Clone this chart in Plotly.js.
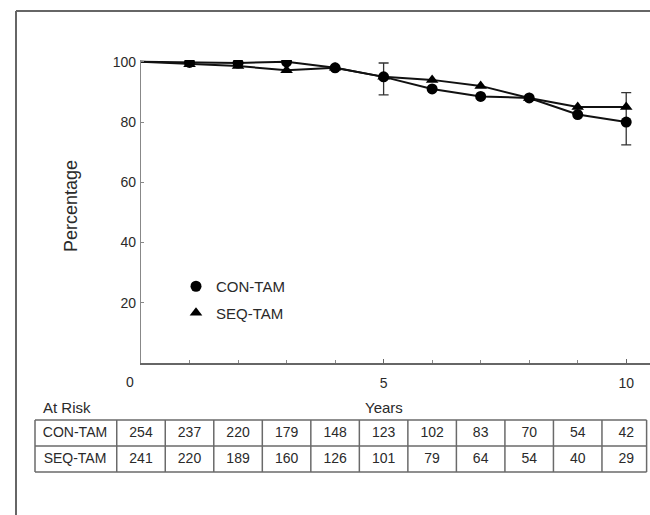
<!DOCTYPE html>
<html><head><meta charset="utf-8">
<script src="https://cdn.plot.ly/plotly-3.0.1.min.js"></script>
<style>html,body{margin:0;padding:0;background:#fff}#chart{width:650px;height:515px}</style>
</head><body><div id="chart"></div>
<script>
// ---- data ----
const years = [0,1,2,3,4,5,6,7,8,9,10];
const conTam = [100, 99.8, 99.6, 100, 98, 95, 91, 88.5, 88, 82.5, 80];
const seqTam = [100, 99.2, 98.6, 97.2, 98, 95, 94, 92, 88, 85, 85];
const conErrPlus  = [null, null, null, null, null, 4.6, null, null, null, null, 9.8];
const conErrMinus = [null, null, null, null, null, 6.0, null, null, null, null, 7.6];
const riskYears = [0,1,2,3,4,5,6,7,8,9,10];
const riskCon = [254, 237, 220, 179, 148, 123, 102, 83, 70, 54, 42];
const riskSeq = [241, 220, 189, 160, 126, 101, 79, 64, 54, 40, 29];
const seriesNames = ['CON-TAM', 'SEQ-TAM'];
const xTickVals = [5, 10];
const yTickVals = [20, 40, 60, 80, 100];

// ---- geometry helpers (pixels -> paper) ----
const W = 650, H = 515;
const px = v => v / W;
const py = v => (H - v) / H;
const plotL = 141, plotR = 650, plotT = 60, plotB = 363;
const xMax = 10.49;
const yearPx = (plotR - plotL) / xMax;
const tableL = 25;
const x2min = -(plotL - tableL) / yearPx;

const ink = '#111';
const txt = '#2a2a2a';
const font = 'Liberation Sans, Arial, sans-serif';

const lineCon = {x: years, y: conTam, mode: 'lines', line: {color: ink, width: 2}, showlegend: false, hoverinfo: 'skip'};
const lineSeq = {x: years, y: seqTam, mode: 'lines', line: {color: ink, width: 2}, showlegend: false, hoverinfo: 'skip'};
const mkCon = {x: years.slice(1), y: conTam.slice(1), mode: 'markers', name: seriesNames[0], legendgroup: 'a',
  marker: {symbol: 'circle', size: 11, color: '#000'},
  error_y: {type: 'data', symmetric: false, array: conErrPlus.slice(1), arrayminus: conErrMinus.slice(1), color: '#333', thickness: 1.3, width: 5}};
const mkSeq = {x: years.slice(1), y: seqTam.slice(1), mode: 'markers', name: seriesNames[1], legendgroup: 'b',
  marker: {symbol: 'triangle-up', size: 11, color: '#000'}};

const labelX = -(plotL - 75) / yearPx;
const tblCon = {x: [labelX].concat(riskYears), y: Array(riskYears.length + 1).fill(1.5),
  text: [seriesNames[0]].concat(riskCon.map(String)), mode: 'text', xaxis: 'x2', yaxis: 'y2',
  textfont: {family: font, size: 14, color: txt}, showlegend: false, hoverinfo: 'skip'};
const tblSeq = {x: [labelX].concat(riskYears), y: Array(riskYears.length + 1).fill(0.5),
  text: [seriesNames[1]].concat(riskSeq.map(String)), mode: 'text', xaxis: 'x2', yaxis: 'y2',
  textfont: {family: font, size: 14, color: txt}, showlegend: false, hoverinfo: 'skip'};

// table grid shapes
const gridCol = '#6a6a6a';
const shapes = [];
const tL = -(plotL - 35) / yearPx, tR = 10.42;
[0, 1, 2].forEach(r => shapes.push({type: 'line', xref: 'x2', yref: 'y2', x0: tL, x1: tR, y0: r, y1: r, line: {color: gridCol, width: 1.5}}));
[tL, -0.5].concat(riskYears.slice(0, -1).map(v => v + 0.5)).concat([tR]).forEach(xv =>
  shapes.push({type: 'line', xref: 'x2', yref: 'y2', x0: xv, x1: xv, y0: 0, y1: 2, line: {color: gridCol, width: 1.5}}));
// outer frame
shapes.push({type: 'line', xref: 'paper', yref: 'paper', x0: px(16), x1: px(16), y0: py(11), y1: -0.05, line: {color: '#666', width: 2}});
shapes.push({type: 'line', xref: 'paper', yref: 'paper', x0: px(16), x1: 1.05, y0: py(11), y1: py(11), line: {color: '#666', width: 2}});

const layout = {
  width: W, height: H, margin: {l: 0, r: 0, t: 0, b: 0},
  paper_bgcolor: '#fff', plot_bgcolor: '#fff',
  font: {family: font, size: 14, color: txt},
  xaxis: {domain: [px(plotL), 1], range: [0, xMax], tickvals: xTickVals, ticktext: xTickVals.map(String),
    ticks: 'inside', ticklen: 4, tickcolor: '#666', showline: true, linecolor: '#666', linewidth: 1.6,
    showgrid: false, zeroline: false, ticklabelstandoff: 7, tickfont: {size: 14, color: txt},
    minor: {dtick: 1, ticks: 'inside', ticklen: 3, tickcolor: '#888', showgrid: false}},
  yaxis: {domain: [py(plotB), py(plotT)], range: [0, 100.6], tickvals: yTickVals, ticks: 'inside', ticklen: 3,
    tickcolor: '#888', showline: true, linecolor: '#888', linewidth: 1.2, showgrid: false, zeroline: false,
    ticklabelstandoff: 1, tickfont: {size: 14, color: txt}},
  xaxis2: {domain: [px(tableL), 1], range: [x2min, xMax], visible: false, anchor: 'y2'},
  yaxis2: {domain: [py(476), py(416)], range: [-4 / 26, 2 + 4 / 26], visible: false, anchor: 'x2'},
  legend: {x: px(176), y: py(270), xanchor: 'left', yanchor: 'top', bgcolor: 'rgba(0,0,0,0)',
    font: {size: 15, color: txt}, tracegroupgap: 4},
  shapes: shapes,
  annotations: [
    {text: '0', x: 0, y: py(382), xref: 'x', yref: 'paper', yanchor: 'middle', xshift: -11, showarrow: false, font: {size: 14, color: txt}},
    {text: 'Years', x: 5, y: py(407), xref: 'x', yref: 'paper', yanchor: 'middle', showarrow: false, font: {size: 15, color: txt}},
    {text: 'At Risk', x: px(41), y: py(407), xref: 'paper', yref: 'paper', xanchor: 'left', yanchor: 'middle', showarrow: false, font: {size: 15, color: txt}},
    {text: 'Percentage', x: px(71), y: py(206), xref: 'paper', yref: 'paper', xanchor: 'center', yanchor: 'middle', textangle: -90, showarrow: false, font: {size: 18, color: txt}}
  ]
};

Plotly.newPlot('chart', [lineCon, lineSeq, mkCon, mkSeq, tblCon, tblSeq], layout, {staticPlot: true, displayModeBar: false});
</script></body></html>
